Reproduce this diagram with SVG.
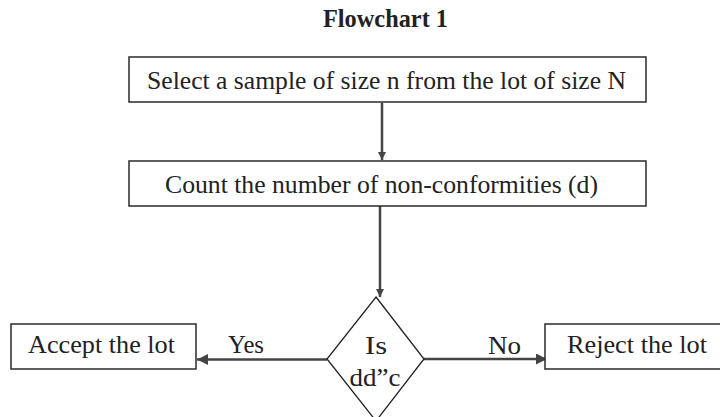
<svg xmlns="http://www.w3.org/2000/svg" width="720" height="417" viewBox="0 0 720 417">
<style>
  .box { fill: #fff; stroke: #2a2a2a; stroke-width: 1.5; }
  .t { font-family: "Liberation Serif", "Times New Roman", serif; font-size: 26px; fill: #222; }
  .title { font-family: "Liberation Serif", "Times New Roman", serif; font-size: 25px; font-weight: bold; fill: #222; }
  .conn { stroke: #444; stroke-width: 2.5; fill: none; }
</style>
<defs>
  <marker id="ahw" viewBox="0 0 10 10" refX="10" refY="5" markerWidth="18" markerHeight="11" markerUnits="userSpaceOnUse" orient="auto">
    <path d="M0,0 L10,5 L0,10 z" fill="#444"/>
  </marker>
  <marker id="ahv" viewBox="0 0 10 10" refX="10" refY="5" markerWidth="8" markerHeight="11" markerUnits="userSpaceOnUse" orient="auto">
    <path d="M0,0 L10,5 L0,10 z" fill="#444"/>
  </marker>
</defs>
<rect width="720" height="417" fill="#fff"/>
<text class="title" x="385.5" y="27" text-anchor="middle" textLength="125" lengthAdjust="spacingAndGlyphs">Flowchart 1</text>
<g id="connectors">
  <line class="conn" x1="382" y1="103" x2="382" y2="160" marker-end="url(#ahv)"/>
  <line class="conn" x1="380" y1="206" x2="380" y2="297" marker-end="url(#ahv)"/>
  <line class="conn" x1="327" y1="359.5" x2="197" y2="359.5" marker-end="url(#ahw)"/>
  <line class="conn" x1="424" y1="359" x2="547" y2="359" marker-end="url(#ahw)"/>
  <text class="t" x="228" y="353" textLength="36" lengthAdjust="spacingAndGlyphs">Yes</text>
  <text class="t" x="488" y="354" textLength="33" lengthAdjust="spacingAndGlyphs">No</text>
</g>
<g id="select">
  <rect class="box" x="129" y="57" width="517" height="45"/>
  <text class="t" x="147" y="89" textLength="479" lengthAdjust="spacingAndGlyphs">Select a sample of size n from the lot of size N</text>
</g>
<g id="count">
  <rect class="box" x="129" y="161" width="517" height="45"/>
  <text class="t" x="165" y="193" textLength="433" lengthAdjust="spacingAndGlyphs">Count the number of non-conformities (d)</text>
</g>
<g id="decision">
  <path d="M376,297 L424,359 L376,421 L327,359 Z" fill="#fff" stroke="#222" stroke-width="1.3"/>
  <text class="t" x="376" y="354" text-anchor="middle" textLength="22" lengthAdjust="spacingAndGlyphs">Is</text>
  <text class="t" x="375" y="386" text-anchor="middle" textLength="51" lengthAdjust="spacingAndGlyphs">dd”c</text>
</g>
<g id="accept">
  <rect class="box" x="11" y="324" width="185" height="45"/>
  <text class="t" x="28" y="353" textLength="147" lengthAdjust="spacingAndGlyphs">Accept the lot</text>
</g>
<g id="reject">
  <rect class="box" x="545" y="324" width="190" height="45"/>
  <text class="t" x="567" y="353" textLength="140" lengthAdjust="spacingAndGlyphs">Reject the lot</text>
</g>
</svg>
